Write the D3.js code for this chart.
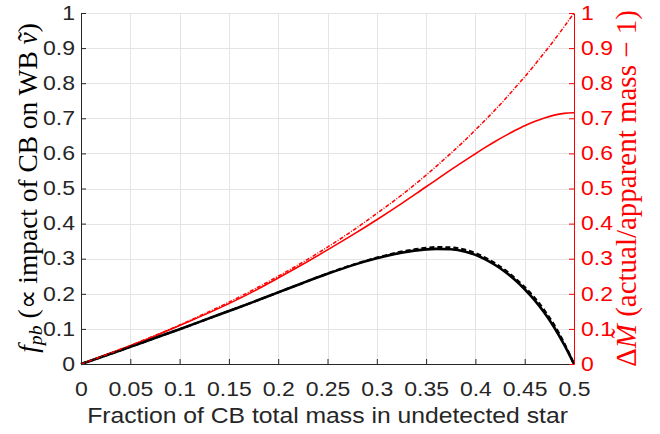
<!DOCTYPE html>
<html><head><meta charset="utf-8">
<script src="https://cdn.jsdelivr.net/npm/d3@7/dist/d3.min.js"></script>
<style>body{margin:0;background:#fff}</style>
</head><body><svg id="c" width="660" height="434"></svg>
<script>
// ---- data ----
const fraction   = [0, 0.025, 0.05, 0.075, 0.1, 0.125, 0.15, 0.175, 0.2, 0.225, 0.25, 0.275, 0.3, 0.325, 0.35, 0.36, 0.375, 0.39, 0.4, 0.41, 0.42, 0.43, 0.44, 0.45, 0.46, 0.47, 0.48, 0.49, 0.5];
const fpbSolid   = [0, 0.024, 0.049, 0.074, 0.099, 0.125, 0.151, 0.177, 0.204, 0.231, 0.257, 0.281, 0.301, 0.317, 0.3265, 0.328, 0.327, 0.32, 0.311, 0.298, 0.282, 0.263, 0.240, 0.213, 0.182, 0.146, 0.104, 0.055, 0];
const fpbDashed  = [0, 0.024, 0.049, 0.074, 0.099, 0.125, 0.151, 0.177, 0.204, 0.231, 0.258, 0.282, 0.303, 0.320, 0.331, 0.333, 0.332, 0.325, 0.316, 0.303, 0.287, 0.268, 0.245, 0.219, 0.189, 0.153, 0.111, 0.06, 0];
const dMSolid    = [0, 0.026, 0.052, 0.08, 0.11, 0.14, 0.172, 0.207, 0.245, 0.284, 0.325, 0.367, 0.411, 0.457, 0.505, 0.524, 0.553, 0.581, 0.599, 0.617, 0.634, 0.65, 0.665, 0.679, 0.691, 0.701, 0.709, 0.714, 0.716];
const dMDashDot  = [0, 0.026, 0.053, 0.081, 0.111, 0.143, 0.176, 0.212, 0.25, 0.29, 0.333, 0.379, 0.429, 0.481, 0.538, 0.5625, 0.6, 0.639, 0.667, 0.695, 0.724, 0.754, 0.786, 0.818, 0.852, 0.887, 0.923, 0.961, 1.0];
const xTicks      = [0, 0.05, 0.1, 0.15, 0.2, 0.25, 0.3, 0.35, 0.4, 0.45, 0.5];
const xTickLabels = ["0", "0.05", "0.1", "0.15", "0.2", "0.25", "0.3", "0.35", "0.4", "0.45", "0.5"];
const yTicks      = [0, 0.1, 0.2, 0.3, 0.4, 0.5, 0.6, 0.7, 0.8, 0.9, 1];
const yTickLabels = ["0", "0.1", "0.2", "0.3", "0.4", "0.5", "0.6", "0.7", "0.8", "0.9", "1"];

// ---- layout ----
const L = 81, R = 574, T = 13, B = 364;
const DARK = "#262626", RED = "#ff0000";
const SX = 1.18;

const svg = d3.select("#c");
svg.append("rect").attr("width", 660).attr("height", 434).attr("fill", "#fff");

const x  = d3.scaleLinear().domain([0, 0.5]).range([L, R]);
const yL = d3.scaleLinear().domain([0, 1]).range([B, T]);
const yR = d3.scaleLinear().domain([0, 1]).range([B, T]);

// grid
const grid = svg.append("g").attr("stroke", "#e4e4e4").attr("stroke-width", 1).attr("shape-rendering", "crispEdges");
grid.selectAll(".gv").data(xTicks.slice(1, -1)).join("line")
  .attr("x1", d => Math.round(x(d)) + 0.5).attr("x2", d => Math.round(x(d)) + 0.5)
  .attr("y1", T).attr("y2", B);
grid.selectAll(".gh").data(yTicks.slice(1)).join("line")
  .attr("y1", d => Math.round(yL(d)) + 0.5).attr("y2", d => Math.round(yL(d)) + 0.5)
  .attr("x1", L).attr("x2", R);

// curves
const pts = ys => fraction.map((f, i) => [f, ys[i]]);
const lineL = d3.line().x(d => x(d[0])).y(d => yL(d[1])).curve(d3.curveMonotoneX);
const lineR = d3.line().x(d => x(d[0])).y(d => yR(d[1])).curve(d3.curveMonotoneX);
const plot = svg.append("g").attr("fill", "none").attr("stroke-linejoin", "round");
plot.append("path").attr("d", lineR(pts(dMSolid))).attr("stroke", RED).attr("stroke-width", 1.6);
plot.append("path").attr("d", lineL(pts(fpbSolid))).attr("stroke", "#000").attr("stroke-width", 2.6);
plot.append("path").attr("d", lineL(pts(fpbDashed))).attr("stroke", "#000").attr("stroke-width", 2.2).attr("stroke-dasharray", "5,3");
plot.append("path").attr("d", lineR(pts(dMDashDot))).attr("stroke", RED).attr("stroke-width", 1.5).attr("stroke-dasharray", "4,1.5,1,1.5");

// axes
const tickFont = "'Liberation Sans', Arial, Helvetica, sans-serif";
const gx = svg.append("g").attr("transform", `translate(0,${B})`)
  .call(d3.axisBottom(x).tickValues(xTicks).tickFormat((d, i) => xTickLabels[i])
    .tickSizeInner(-5).tickSizeOuter(0).tickPadding(18));
gx.selectAll("text").attr("transform", `scale(${SX},1)`);

const gl = svg.append("g").attr("transform", `translate(${L},0)`)
  .call(d3.axisLeft(yL).tickValues(yTicks).tickFormat((d, i) => yTickLabels[i])
    .tickSizeInner(-5).tickSizeOuter(0).tickPadding(6));
gl.selectAll("text").attr("x", -6 / SX).attr("transform", `scale(${SX},1)`);

const gr = svg.append("g").attr("transform", `translate(${R},0)`)
  .call(d3.axisRight(yR).tickValues(yTicks).tickFormat((d, i) => yTickLabels[i])
    .tickSizeInner(-5).tickSizeOuter(0).tickPadding(7));
gr.selectAll("text").attr("x", 7 / SX).attr("transform", `scale(${SX},1)`);

[gx, gl].forEach(g => {
  g.selectAll("path,line").attr("stroke", DARK);
  g.selectAll("text").attr("fill", DARK).style("font-family", tickFont).style("font-size", "19.5px");
});
gr.selectAll("path,line").attr("stroke", RED);
gr.selectAll("text").attr("fill", RED).style("font-family", tickFont).style("font-size", "19.5px");

// x label
const xl = svg.append("text").attr("text-anchor", "middle")
  .attr("fill", DARK).style("font-family", tickFont).style("font-size", "21.5px")
  .text("Fraction of CB total mass in undetected star");
{
  const len = xl.node().getComputedTextLength();
  const s = 481 / len;
  xl.attr("transform", `translate(${(L + R) / 2},423) scale(${s},1)`);
}

// y labels (serif, math style)
const serif = "'Liberation Serif', 'Times New Roman', serif";
function fitLabel(t, target) {
  let fs = 20;
  t.style("font-size", fs + "px");
  const len = t.node().getComputedTextLength();
  fs = fs * target / len;
  t.style("font-size", fs + "px");
}
const ylab = svg.append("text").attr("text-anchor", "middle").attr("fill", "#000")
  .style("font-family", serif)
  .attr("transform", `translate(37,${(353 + 23) / 2}) rotate(-90)`);
ylab.append("tspan").attr("font-style", "italic").text("f");
ylab.append("tspan").attr("font-style", "italic").attr("font-size", "0.72em").attr("dy", "0.25em").text("pb");
ylab.append("tspan").attr("dy", "-0.18em").text(" (\u221D impact of CB on WB ");
ylab.append("tspan").attr("font-style", "italic").text("v\u0303");
ylab.append("tspan").text(")");
fitLabel(ylab, 330);

const rlab = svg.append("text").attr("text-anchor", "middle").attr("fill", RED)
  .style("font-family", serif)
  .attr("transform", `translate(636,${(367 + 10) / 2}) rotate(-90)`);
rlab.append("tspan").text("\u0394");
rlab.append("tspan").attr("font-style", "italic").text("M\u0303");
rlab.append("tspan").text(" (actual/apparent mass \u2212 1)");
fitLabel(rlab, 357);
</script>
</body></html>
